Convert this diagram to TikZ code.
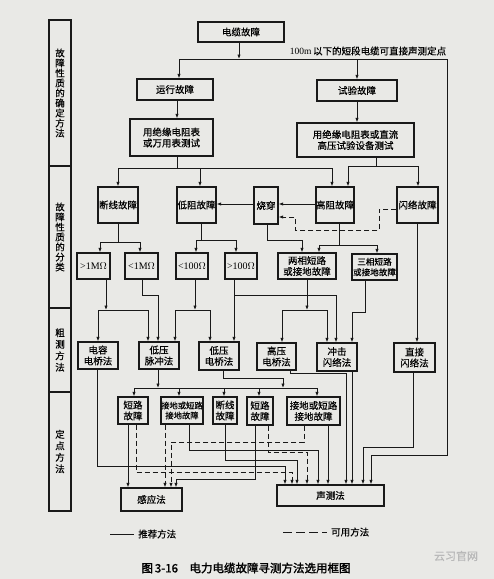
\documentclass[tikz,border=0pt]{standalone}
\usepackage{fontspec}
\setmainfont{Liberation Serif}
\newfontfamily\cjk[FakeBold=0.4]{Noto Sans CJK SC}
\newfontfamily\cjkbold[FakeBold=1.8]{Noto Sans CJK SC}
\usetikzlibrary{arrows.meta}
\definecolor{ink}{RGB}{25,25,25}
\definecolor{paper}{RGB}{233,233,230}
\newcommand\boxfont{\cjk\fontsize{9.5}{11}\selectfont}
\newcommand\smallboxfont{\cjk\fontsize{8.3}{10}\selectfont}
\begin{document}
\begin{tikzpicture}[x=1pt,y=-1pt,
  box/.style={draw=ink,line width=1.2pt,inner sep=0pt,align=center,font=\boxfont},
  sbox/.style={box,font=\smallboxfont},
  colbox/.style={draw=ink,line width=1.2pt,inner sep=0pt,align=center,minimum width=22pt,
     font=\cjk\fontsize{9.5}{10}\selectfont},
  conn/.style={draw=ink,line width=0.85pt},
  arr/.style={conn,-{Latex[length=4.5pt,width=3.4pt]}},
  dsh/.style={dash pattern=on 5pt off 3pt}]
\fill[paper] (0,0) rectangle (494,579);
\useasboundingbox (0,0) rectangle (494,579);

% left column
\node[colbox,minimum height=146pt] (c1) at (60,93) {故\\障\\性\\质\\的\\确\\定\\方\\法};
\node[colbox,minimum height=142pt] (c2) at (60,237) {故\\障\\性\\质\\的\\分\\类};
\node[colbox,minimum height=84pt,font=\cjk\fontsize{9.5}{11.5}\selectfont] (c3) at (60,350) {粗\\测\\方\\法};
\node[colbox,minimum height=119pt,font=\cjk\fontsize{9.5}{11.5}\selectfont] (c4) at (60,451.5) {定\\点\\方\\法};

% nodes
\node[box,minimum width=86pt,minimum height=20pt] (cable) at (241,32) {电缆故障};
\node[box,minimum width=76pt,minimum height=21pt] (run) at (175,89.5) {运行故障};
\node[box,minimum width=80pt,minimum height=21pt] (test) at (357,90.5) {试验故障};
\node[box,minimum width=83pt,minimum height=37pt] (m1) at (171.5,137.5) {用绝缘电阻表\\或万用表测试};
\node[box,minimum width=117pt,minimum height=34pt] (m2) at (355.5,140) {用绝缘电阻表或直流\\高压试验设备测试};

\node[box,minimum width=40pt,minimum height=36pt] (dx) at (118,205) {断线故障};
\node[box,minimum width=39pt,minimum height=36pt] (dz) at (196.5,205) {低阻故障};
\node[box,minimum width=24pt,minimum height=37pt] (sc) at (266,205.5) {烧穿};
\node[box,minimum width=38pt,minimum height=36pt] (gz) at (335,205) {高阻故障};
\node[box,minimum width=41pt,minimum height=36pt] (sl) at (417.5,205) {闪络故障};

\node[box,minimum width=33pt,minimum height=26pt,font=\rmfamily\fontsize{10}{11}\selectfont] (r1) at (93.5,266) {>1M$\Omega$};
\node[box,minimum width=33pt,minimum height=26pt,font=\rmfamily\fontsize{10}{11}\selectfont] (r2) at (141.5,266) {<1M$\Omega$};
\node[box,minimum width=32pt,minimum height=26pt,font=\rmfamily\fontsize{10}{11}\selectfont] (r3) at (192,266) {<100$\Omega$};
\node[box,minimum width=32pt,minimum height=26pt,font=\rmfamily\fontsize{10}{11}\selectfont] (r4) at (241,266) {>100$\Omega$};
\node[box,minimum width=58pt,minimum height=26pt] (lx) at (307,266) {两相短路\\或接地故障};
\node[box,minimum width=45pt,minimum height=26pt,font=\cjk\fontsize{8.6}{10.5}\selectfont] (sx) at (374.5,267) {三相短路\\或接地故障};

\node[box,minimum width=40pt,minimum height=27pt] (cq) at (98,355.5) {电容\\电桥法};
\node[box,minimum width=40pt,minimum height=27pt] (dy) at (159,355.5) {低压\\脉冲法};
\node[box,minimum width=40pt,minimum height=28pt] (dq) at (219,356) {低压\\电桥法};
\node[box,minimum width=39pt,minimum height=27pt] (gq) at (276.5,356.5) {高压\\电桥法};
\node[box,minimum width=40pt,minimum height=28pt] (cj) at (337,357) {冲击\\闪络法};
\node[box,minimum width=41pt,minimum height=29pt] (zj) at (414.5,357.5) {直接\\闪络法};

\node[box,minimum width=30pt,minimum height=27pt] (a1) at (133,410.5) {短路\\故障};
\node[sbox,minimum width=42pt,minimum height=27pt] (a2) at (182,410.5) {接地或短路\\接地故障};
\node[box,minimum width=24pt,minimum height=27pt] (a3) at (225,410.5) {断线\\故障};
\node[box,minimum width=26pt,minimum height=28pt] (b1) at (260,411) {短路\\故障};
\node[box,minimum width=53pt,minimum height=28pt] (b2) at (313.5,411) {接地或短路\\接地故障};

\node[box,minimum width=61pt,minimum height=23pt] (gy) at (151.5,499.5) {感应法};
\node[box,minimum width=107pt,minimum height=21pt] (sm) at (330.5,495.5) {声测法};

% top note
\node[font=\boxfont,inner sep=0pt] (note) at (368,51) {{\rmfamily 100m}\,以下的短段电缆可直接声测定点};

% top connectors
\coordinate (jtop) at (239,59);
\coordinate (tl) at (179,59);
\coordinate (tr) at (447,59);
\draw[arr] (cable.south -| jtop) -- (jtop);
\draw[conn] (tl) -- (tr);
\draw[arr] (tl) -- (run.north -| tl);
\draw[arr] (test.north |- tl) -- (test.north);
\draw[arr] (tr) |- (371,455) -- (sm.north -| 371,0);

\draw[arr] (run.south -| 177,0) -- (m1.north -| 177,0);
\draw[arr] (test.south) -- (m2.north -| test.south);

% m1 bus
\draw[conn] (m1.south -| 177,0) -- (177,168);
\draw[conn] (118,168) -- (332,168);
\draw[arr] (118,168) -- (dx.north -| 118,0);
\draw[arr] (200,168) -- (dz.north -| 200,0);
\draw[arr] (332,168) -- (gz.north -| 332,0);
% m2 bus
\draw[conn] (m2.south -| 376,0) -- (376,166);
\draw[conn] (348,166) -- (418,166);
\draw[arr] (348,166) -- (gz.north -| 348,0);
\draw[arr] (418,166) -- (sl.north -| 418,0);

% fault class row
\draw[arr] (sc.west |- 0,204) -- (dz.east |- 0,204);
\draw[arr] (gz.west |- 0,204) -- (sc.east |- 0,204);
\draw[arr,dsh] (sl.west |- 0,209) -- (379,209) -- (379,230) -- (295,230) -- (295,217) -- (sc.east |- 0,217);

\draw[conn] (dx.south) -- (118,242);
\draw[conn] (100,242) -- (140,242);
\draw[arr] (100,242) -- (r1.north -| 100,0);
\draw[arr] (140,242) -- (r2.north -| 140,0);

\draw[conn] (dz.south -| 201,0) -- (201,240);
\draw[conn] (196,240) -- (236,240);
\draw[arr] (196,240) -- (r3.north -| 196,0);
\draw[arr] (236,240) -- (r4.north -| 236,0);

\draw[arr] (sc.south -| 267,0) |- (302,240) -- (lx.north -| 302,0);
\draw[conn] (gz.south -| 339,0) -- (339,245);
\draw[conn] (319,245) -- (377,245);
\draw[arr] (319,245) -- (lx.north -| 319,0);
\draw[arr] (377,245) -- (sx.north -| 377,0);
\draw[arr] (sl.south -| 417,0) -- (zj.north -| 417,0);

% to rough methods
\draw[arr] (r1.south -| 106,0) -- (106,310);
\draw[conn] (98,310) -- (148,310);
\draw[arr] (98,310) -- (cq.north -| 98,0);
\draw[arr] (148,310) -- (dy.north -| 148,0);
\draw[arr] (r2.south -| 142,0) |- (158,295) -- (dy.north -| 158,0);
\draw[arr] (r3.south -| 195,0) -- (195,310);
\draw[conn] (175,310) -- (210,310);
\draw[arr] (175,310) -- (dy.north -| 175,0);
\draw[arr] (210,310) -- (dq.north -| 210,0);
\draw[arr] (r4.south -| 234,0) -- (dq.north -| 234,0);
\draw[arr] (234,295) -| (cj.north -| 336,0);
\draw[arr] (lx.south -| 307,0) -- (307,310);
\draw[conn] (282,310) -- (327,310);
\draw[arr] (282,310) -- (gq.north -| 282,0);
\draw[arr] (327,310) -- (cj.north -| 327,0);
\draw[arr] (sx.south -| 365,0) |- (352,312) -- (cj.north -| 352,0);

% rough methods down
\draw[arr] (cq.south -| 97,0) |- (285,466) -- (sm.north -| 285,0);
\draw[arr] (dy.south -| 158,0) -- (158,388);
\draw[conn] (134,388) -- (317,388);
\draw[arr] (134,388) -- (a1.north -| 134,0);
\draw[arr] (179,388) -- (a2.north -| 179,0);
\draw[arr] (224,388) -- (a3.north -| 224,0);
\draw[arr] (259,388) -- (b1.north -| 259,0);
\draw[arr] (317,388) -- (b2.north -| 317,0);
\draw[arr] (dq.south -| 223,0) |- (283,378) -- (283,388);
\draw[arr] (gq.south -| 290,0) |- (346,373) -- (sm.north -| 346,0);
\draw[arr] (cj.south -| 352,0) -- (sm.north -| 352,0);
\draw[arr] (zj.south -| 413,0) |- (363,447) -- (sm.north -| 363,0);

% locating
\draw[arr] (a1.south -| 128,0) -- (gy.north -| 128,0);
\draw[arr,dsh] (a1.south -| 136,0) |- (292,472) -- (sm.north -| 292,0);
\draw[arr,dsh] (a2.south -| 165,0) -- (gy.north -| 165,0);
\draw[arr] (a2.south -| 189,0) |- (318,450) -- (sm.north -| 318,0);
\draw[arr] (a3.south -| 225,0) |- (297,460) -- (sm.north -| 297,0);
\draw[arr] (b1.south -| 255,0) |- (176,479) -- (gy.north -| 176,0);
\draw[arr,dsh] (b1.south -| 268,0) |- (307,452) -- (sm.north -| 307,0);
\draw[arr,dsh] (b2.south -| 304,0) |- (171,442) -- (gy.north -| 171,0);
\draw[arr] (b2.south -| 328,0) -- (sm.north -| 328,0);

% legend
\coordinate (l1a) at (110,534); \coordinate (l1b) at (134,534);
\draw[conn,line width=0.9pt] (l1a) -- (l1b);
\node[font=\boxfont,anchor=west,inner sep=0pt] (leg1) at (138,534) {推荐方法};
\coordinate (l2a) at (283,532); \coordinate (l2b) at (327,532);
\draw[conn,line width=0.9pt,dash pattern=on 9pt off 4pt] (l2a) -- (l2b);
\node[font=\boxfont,anchor=west,inner sep=0pt] (leg2) at (331,532) {可用方法};

% caption
\node[font=\cjkbold\fontsize{11.5}{13}\selectfont,inner sep=0pt] (cap) at (246,568) {图\,3-16\quad 电力电缆故障寻测方法选用框图};
% watermark
\node[font=\cjk\fontsize{11}{13}\selectfont,text=gray!55,inner sep=0pt] (wm) at (456,556) {云习官网};
\end{tikzpicture}
\end{document}
